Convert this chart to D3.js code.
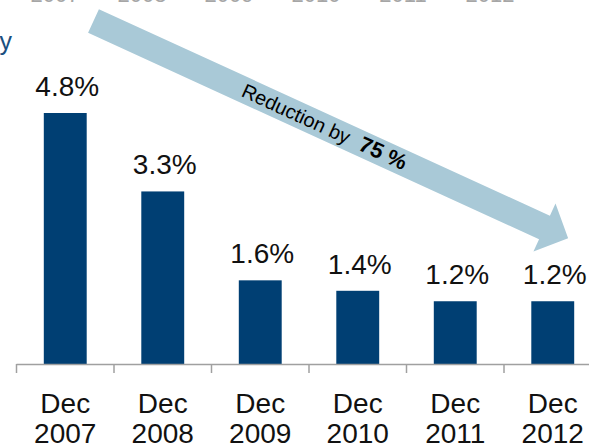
<!DOCTYPE html>
<html>
<head>
<meta charset="utf-8">
<script src="https://cdn.jsdelivr.net/npm/d3@7"></script>
<style>
  html, body { margin: 0; padding: 0; background: #fff; }
  svg { display: block; font-family: "Liberation Sans", Arial, sans-serif; }
</style>
</head>
<body>
<svg id="chart" width="589" height="444"></svg>
<script>
const categories = ['2007', '2008', '2009', '2010', '2011', '2012'];
const values     = [4.8, 3.3, 1.6, 1.4, 1.2, 1.2];
const valueLabels = ['4.8%', '3.3%', '1.6%', '1.4%', '1.2%', '1.2%'];
const headerYears = ['2007', '2008', '2009', '2010', '2011', '2012'];
const arrowLabel = 'Reduction by';
const arrowValue = '75 %';

const W = 589, H = 444;
const BASE = 364;

const svg = d3.select('#chart');

var x = d3.scaleBand()
    .domain(categories)
    .range([16.5, 601.5])
    .paddingInner(0.56)
    .paddingOuter(0.28);

var y = d3.scaleLinear()
    .domain([0, 4.8])
    .range([BASE, 113]);

// header years cut off at the top (from the chart above)
var xHead = d3.scaleBand().domain(headerYears).range([11.5, 533.5]);
svg.selectAll('text.head')
    .data(headerYears)
    .enter().append('text')
    .attr('class', 'head')
    .attr('x', function (d) { return xHead(d) + xHead.bandwidth() / 2; })
    .attr('y', 2)
    .attr('text-anchor', 'middle')
    .style('font-size', '22px')
    .style('fill', '#a6a6a6')
    .text(function (d) { return d; });

// leftover title text on the left edge
svg.append('text')
    .attr('x', 12).attr('y', 50)
    .attr('text-anchor', 'end')
    .style('font-size', '25px')
    .style('fill', '#1b4f80')
    .text('y');

// bars
svg.selectAll('rect.bar')
    .data(values)
    .enter().append('rect')
    .attr('class', 'bar')
    .attr('x', function (d, i) { return x(categories[i]); })
    .attr('y', function (d) { return y(d); })
    .attr('width', x.bandwidth())
    .attr('height', function (d) { return BASE - y(d); })
    .style('fill', '#003f73');

// value labels
svg.selectAll('text.val')
    .data(values)
    .enter().append('text')
    .attr('class', 'val')
    .attr('x', function (d, i) { return x(categories[i]) + x.bandwidth() / 2 + 2; })
    .attr('y', function (d) { return y(d) - 17; })
    .attr('text-anchor', 'middle')
    .style('font-size', '28px')
    .style('fill', '#111')
    .text(function (d, i) { return valueLabels[i]; });

// axis line + ticks at band edges
var step = x.step();
var x0 = x.range()[0];
svg.append('line')
    .attr('x1', x0).attr('x2', W)
    .attr('y1', BASE + 0.5).attr('y2', BASE + 0.5)
    .style('stroke', '#a0a0a0').style('stroke-width', 1.5);

svg.selectAll('line.tick')
    .data(d3.range(categories.length + 1))
    .enter().append('line')
    .attr('class', 'tick')
    .attr('x1', function (i) { return x0 + i * step; })
    .attr('x2', function (i) { return x0 + i * step; })
    .attr('y1', BASE).attr('y2', BASE + 9)
    .style('stroke', '#a0a0a0').style('stroke-width', 1.5);

// category labels
var cat = svg.selectAll('g.cat')
    .data(categories)
    .enter().append('g')
    .attr('class', 'cat')
    .attr('transform', function (d) {
        return 'translate(' + (x(d) + x.bandwidth() / 2) + ',0)';
    });

cat.append('text')
    .attr('y', 413)
    .attr('text-anchor', 'middle')
    .style('font-size', '28px')
    .style('fill', '#111')
    .text('Dec');

cat.append('text')
    .attr('y', 443)
    .attr('text-anchor', 'middle')
    .style('font-size', '28px')
    .style('fill', '#111')
    .text(function (d) { return d; });

// ===== reduction arrow =====
var ang = 24.6, len = 522, head = 26, hw = 13, bw = 26.5;
var arrow = svg.append('g')
    .attr('transform', 'translate(93.5,21) rotate(' + ang + ')');

arrow.append('path')
    .attr('d', d3.line()([
        [0, -hw], [len - head, -hw], [len - head, -bw], [len, 0],
        [len - head, bw], [len - head, hw], [0, hw]
    ]) + 'Z')
    .style('fill', '#a9c9d7');

var t = arrow.append('text')
    .attr('x', 254).attr('y', 7)
    .attr('text-anchor', 'middle')
    .style('fill', '#000');
t.append('tspan')
    .style('font-size', '20px')
    .text(arrowLabel);
t.append('tspan')
    .attr('dx', 12)
    .style('font-size', '22px')
    .style('font-weight', 'bold')
    .text(arrowValue);
</script>
</body>
</html>
